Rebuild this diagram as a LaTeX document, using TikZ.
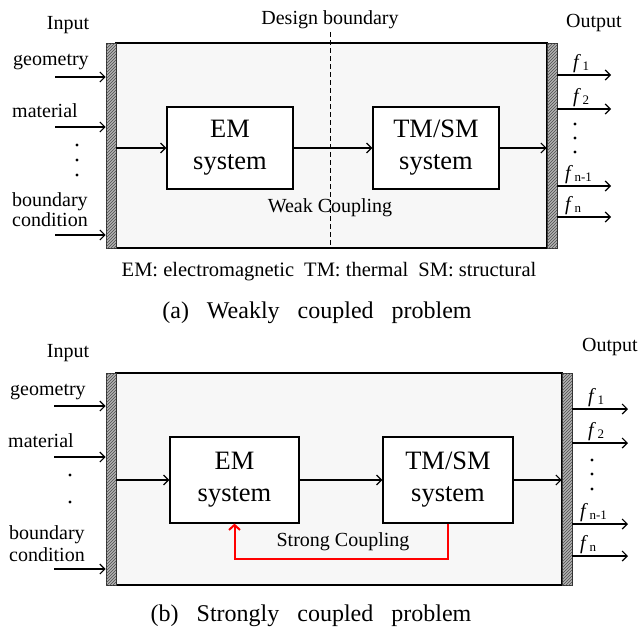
\documentclass[tikz,border=0pt]{standalone}
\usepackage{fontspec}
\setmainfont{Liberation Serif}
\usetikzlibrary{arrows.meta,patterns}

% output symbol: italic f with an upright lowered index
\newcommand\outsym[1]{\textit{f}\kern1.5pt\raisebox{-2pt}{\fontsize{13}{13}\selectfont #1}}
\newcommand\capgap{\hspace{18pt}}

\tikzset{
  arr/.style={line width=1.2pt, -{Straight Barb[length=5pt,width=10pt,line width=1.2pt]}},
  frame/.style={draw=black, line width=2pt, fill=black!3, inner sep=0pt},
  wall/.style={draw=black!80, line width=0.6pt, fill=black!30,
    postaction={pattern=north east lines, pattern color=black!70},
    minimum width=10pt, inner sep=0pt},
  sysbox/.style={draw=black, line width=1.2pt, fill=white, align=center, inner sep=0pt,
    font=\fontsize{26.5}{32}\selectfont},
  lbl/.style={inner sep=0pt, font=\fontsize{20}{22}\selectfont},
  inlbl/.style={lbl, anchor=west, align=left},
  outlbl/.style={inner sep=0pt, anchor=south west, font=\fontsize{20}{22}\selectfont},
  caption/.style={inner sep=0pt, font=\fontsize{24}{26}\selectfont},
  dot/.style={radius=1.6pt},
}

\begin{document}
\begin{tikzpicture}[x=1pt,y=-1pt]
\useasboundingbox (0,0) rectangle (641,635);
\fill[white] (0,0) rectangle (641,635);

% ===================== (a) weakly coupled =====================
\node[frame, minimum width=431pt, minimum height=205pt] (box_a) at (331.5,145.5) {};
\node[wall, minimum height=205pt] (wl_a) at (111,145.5) {};
\node[wall, minimum height=205pt] (wr_a) at (552,145.5) {};

% design boundary
\node[lbl] (db) at (330,20) {Design boundary};
\coordinate (dbtop) at (330,32);
\draw[line width=0.6pt, dash pattern=on 5pt off 3pt] (dbtop) -- (dbtop |- box_a.south);

\node[sysbox, minimum width=126pt, minimum height=82pt] (em_a) at (230,148) {EM\\system};
\node[sysbox, minimum width=126pt, minimum height=82pt] (tm_a) at (436,148) {TM/SM\\system};
\node[lbl] (wk) at (330,208) {Weak Coupling};

% inputs
\node[lbl] (in_a) at (68,25) {Input};
\node[inlbl] (g_a) at (13,62) {geometry};
\node[inlbl] (m_a) at (12,111) {material};
\node[inlbl, font=\fontsize{20}{20}\selectfont] (bc_a) at (12,210) {boundary\\condition};
\coordinate (gi_a) at (55,77);
\coordinate (mi_a) at (55,127);
\coordinate (bi_a) at (55,235);
\draw[arr] (gi_a) -- (gi_a -| wl_a.west);
\draw[arr] (mi_a) -- (mi_a -| wl_a.west);
\draw[arr] (bi_a) -- (bi_a -| wl_a.west);
\fill (77,145) circle[dot] (77,160) circle[dot] (77,175) circle[dot];

% internal flow
\draw[arr] (wl_a.east |- em_a.west) -- (em_a.west);
\draw[arr] (em_a.east) -- (tm_a.west);
\draw[arr] (tm_a.east) -- (tm_a.east -| wr_a.west);

% outputs
\node[lbl] (out_a) at (594,23) {Output};
\coordinate (o1_a) at (611,75);
\coordinate (o2_a) at (611,109);
\coordinate (o3_a) at (611,186);
\coordinate (o4_a) at (611,217);
\foreach \c in {o1_a,o2_a,o3_a,o4_a} \draw[arr] (\c -| wr_a.east) -- (\c);
\node[outlbl] (f1_a) at (573,73) {\outsym{1}};
\node[outlbl] (f2_a) at (573,107) {\outsym{2}};
\node[outlbl] (f3_a) at (565,184) {\outsym{n-1}};
\node[outlbl] (f4_a) at (565,215) {\outsym{n}};
\fill (575,124) circle[dot] (575,138) circle[dot] (575,152) circle[dot];

\node[inner sep=0pt, font=\fontsize{20.5}{22}\selectfont] (legend) at (329,272)
  {EM: electromagnetic\hspace{10pt}TM: thermal\hspace{10pt}SM: structural};
\node[caption] (cap_a) at (317,313) {(a)\capgap Weakly\capgap coupled\capgap problem};

% ===================== (b) strongly coupled =====================
\node[frame, minimum width=446pt, minimum height=212pt] (box_b) at (339,479) {};
\node[wall, minimum height=212pt] (wl_b) at (111,479) {};
\node[wall, minimum height=212pt] (wr_b) at (567,479) {};

\node[sysbox, minimum width=129pt, minimum height=86pt] (em_b) at (234.5,480) {EM\\system};
\node[sysbox, minimum width=130pt, minimum height=86pt] (tm_b) at (448,480) {TM/SM\\system};

% inputs
\node[lbl] (in_b) at (68,353) {Input};
\node[inlbl] (g_b) at (10,392) {geometry};
\node[inlbl] (m_b) at (8,441) {material};
\node[inlbl, font=\fontsize{20}{22}\selectfont] (bc_b) at (9,544) {boundary\\condition};
\coordinate (gi_b) at (54,406);
\coordinate (mi_b) at (54,457);
\coordinate (bi_b) at (54,569);
\draw[arr] (gi_b) -- (gi_b -| wl_b.west);
\draw[arr] (mi_b) -- (mi_b -| wl_b.west);
\draw[arr] (bi_b) -- (bi_b -| wl_b.west);
\fill (70,475) circle[dot] (70,502) circle[dot];

% internal flow
\draw[arr] (wl_b.east |- em_b.west) -- (em_b.west);
\draw[arr] (em_b.east) -- (tm_b.west);
\draw[arr] (tm_b.east) -- (tm_b.east -| wr_b.west);

% strong coupling feedback
\draw[red, line width=2pt, -{Straight Barb[length=5pt,width=11pt,line width=2pt]}]
  (tm_b.south) -- ++(0,35) -| (em_b.south);
\node[lbl] (st) at (343,542) {Strong Coupling};

% outputs
\node[lbl] (out_b) at (610,347) {Output};
\coordinate (o1_b) at (628,409);
\coordinate (o2_b) at (628,443);
\coordinate (o3_b) at (628,524);
\coordinate (o4_b) at (628,556);
\foreach \c in {o1_b,o2_b,o3_b,o4_b} \draw[arr] (\c -| wr_b.east) -- (\c);
\node[outlbl] (f1_b) at (588,407) {\outsym{1}};
\node[outlbl] (f2_b) at (588,441) {\outsym{2}};
\node[outlbl] (f3_b) at (580,522) {\outsym{n-1}};
\node[outlbl] (f4_b) at (580,554) {\outsym{n}};
\fill (592,460) circle[dot] (592,474) circle[dot] (592,489) circle[dot];

\node[caption] (cap_b) at (311,616) {(b)\capgap Strongly\capgap coupled\capgap problem};
\end{tikzpicture}
\end{document}
